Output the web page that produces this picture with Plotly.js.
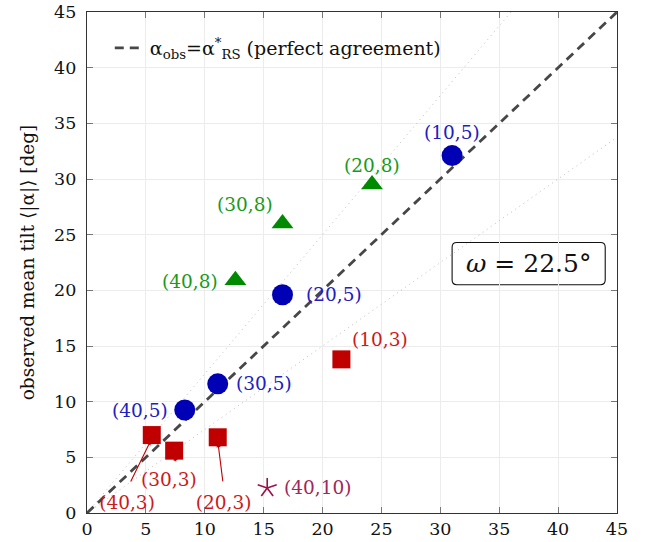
<!DOCTYPE html>
<html><head><meta charset="utf-8">
<script src="https://cdn.plot.ly/plotly-3.0.1.min.js"></script>
<style>body{margin:0;background:#fff}#g{width:645px;height:542px}</style>
</head><body><div id="g"></div>
<script>
// ---- data ----
const circX = [31.0, 16.6, 11.1, 8.3];
const circY = [32.1, 19.6, 11.6, 9.25];
const circLab = ['(10,5)', '(20,5)', '(30,5)', '(40,5)'];
const circLabX = [31.0, 21.0, 15.0, 4.5];
const circLabY = [34.2, 19.6, 11.6, 9.25];

const triX = [24.2, 16.6, 12.6];
const triY = [29.5, 26.0, 20.9];
const triLab = ['(20,8)', '(30,8)', '(40,8)'];
const triLabX = [24.2, 13.4, 8.75];
const triLabY = [31.2, 27.7, 20.8];

const sqX = [21.6, 11.1, 7.4, 5.5];
const sqY = [13.8, 6.8, 5.6, 7.0];
const sqLab = ['(10,3)', '(20,3)', '(30,3)', '(40,3)'];
const sqLabX = [24.9, 11.6, 7.0, 3.4];
const sqLabY = [15.6, 0.75, 3.0, 0.75];
// arrow tails (label side) for the crowded labels
const sqArrTailX = [null, 11.55, 7.6, 3.65];
const sqArrTailY = [null, 2.7, 4.5, 2.7];

const starX = [15.3];
const starY = [2.25];
const starLab = ['(40,10)'];
const starLabX = [19.6];
const starLabY = [2.25];

const refX = [0, 45];
const refY = [0, 45];
const upperSlope = 1.25, lowerSlope = 0.75;
const omegaText = '<i>ω</i> = 22.5°';

// ---- styles ----
const FONT = 'DejaVu Serif';
const BLUE = '#0000b4', GREEN = '#008a00', RED = '#c00000', PURP = '#9b1048';
const BLUE_T = '#2020c0', GREEN_T = '#1a9a1a', RED_T = '#cc1a1a', PURP_T = '#a0285a';

// five-armed star glyph around the data point (pixel-sized arms converted via axis scale)
const pxPerX = 530 / 45, pxPerY = 501 / 45, arm = 10;
const starLX = [], starLY = [];
for (let i = 0; i < starX.length; i++) {
  for (let k = 0; k < 5; k++) {
    const a = Math.PI / 2 + k * 2 * Math.PI / 5;
    starLX.push(starX[i], starX[i] + arm * Math.cos(a) / pxPerX, null);
    starLY.push(starY[i], starY[i] + arm * Math.sin(a) / pxPerY, null);
  }
}

const traces = [
  {x: refX, y: refX.map(v => v * upperSlope), mode: 'lines', showlegend: false, hoverinfo: 'skip',
   line: {color: '#bdbdbd', width: 1, dash: '1px,4px'}},
  {x: refX, y: refX.map(v => v * lowerSlope), mode: 'lines', showlegend: false, hoverinfo: 'skip',
   line: {color: '#bdbdbd', width: 1, dash: '1px,4px'}},
  {x: refX, y: refY, mode: 'lines', name: 'α<sub>obs</sub>=α<sup>*</sup><sub>RS</sub> (perfect agreement)',
   line: {color: '#474747', width: 2.8, dash: '9px,6px'}},
  {x: circX, y: circY, mode: 'markers', showlegend: false,
   marker: {symbol: 'circle', size: 21, color: BLUE}},
  {x: triX, y: triY, mode: 'markers', showlegend: false,
   marker: {symbol: 'triangle-up', size: 19, color: GREEN}},
  {x: sqX, y: sqY, mode: 'markers', showlegend: false,
   marker: {symbol: 'square', size: 18, color: RED}},
  {x: starLX, y: starLY, mode: 'lines', showlegend: false, connectgaps: false,
   line: {color: PURP, width: 1.6}},
  // clipped labels near the bottom axis
  {x: [sqLabX[1], sqLabX[3]], y: [sqLabY[1], sqLabY[3]], mode: 'text', text: [sqLab[1], sqLab[3]],
   showlegend: false, cliponaxis: true, textposition: 'middle center',
   textfont: {family: FONT, size: 18.5, color: RED_T}}
];

const ann = [];
function addLabels(xs, ys, labs, col, skip) {
  for (let i = 0; i < labs.length; i++) {
    if (skip && skip.includes(i)) continue;
    ann.push({x: xs[i], y: ys[i], xref: 'x', yref: 'y', text: labs[i], showarrow: false,
              font: {family: FONT, size: 18.5, color: col}});
  }
}
addLabels(circLabX, circLabY, circLab, BLUE_T);
addLabels(triLabX, triLabY, triLab, GREEN_T);
addLabels(sqLabX, sqLabY, sqLab, RED_T, [1, 3]);
addLabels(starLabX, starLabY, starLab, PURP_T);
for (let i = 0; i < sqX.length; i++) {
  if (sqArrTailX[i] === null) continue;
  ann.push({x: sqX[i] - (sqX[i] - sqArrTailX[i]) * 0.05, y: sqY[i] - 0.5, xref: 'x', yref: 'y',
            ax: sqArrTailX[i], ay: sqArrTailY[i], axref: 'x', ayref: 'y', text: '',
            showarrow: true, arrowhead: 2, arrowsize: 0.8, arrowwidth: 1.1, arrowcolor: RED});
}
ann.push({x: 37.5, y: 22.4, xref: 'x', yref: 'y', text: omegaText, showarrow: false,
          font: {family: FONT, size: 25, color: '#111'}});

// rounded box for omega
const bx0 = 31.0, bx1 = 44.0, by0 = 20.5, by1 = 24.3, rx = 0.4, ry = 0.42;
const boxPath = `M ${bx0 + rx},${by0} L ${bx1 - rx},${by0} Q ${bx1},${by0} ${bx1},${by0 + ry} ` +
  `L ${bx1},${by1 - ry} Q ${bx1},${by1} ${bx1 - rx},${by1} L ${bx0 + rx},${by1} ` +
  `Q ${bx0},${by1} ${bx0},${by1 - ry} L ${bx0},${by0 + ry} Q ${bx0},${by0} ${bx0 + rx},${by0} Z`;

const axisCommon = {
  range: [0, 45], dtick: 5, tick0: 0, ticks: 'inside', ticklen: 6, tickcolor: '#777', tickwidth: 1,
  showgrid: true, gridcolor: '#ececec', gridwidth: 1, zeroline: false,
  showline: true, linecolor: '#333', linewidth: 1.2, mirror: 'allticks',
  tickfont: {family: FONT, size: 17.5, color: '#111'}
};

const layout = {
  width: 645, height: 542,
  margin: {l: 87, r: 28, t: 12, b: 29},
  paper_bgcolor: '#fff', plot_bgcolor: '#fff',
  xaxis: Object.assign({}, axisCommon),
  yaxis: Object.assign({}, axisCommon, {
    ticklabelstandoff: 6,
    title: {text: 'observed mean tilt ⟨|α|⟩ [deg]', font: {family: FONT, size: 18.5, color: '#111'}, standoff: 14}
  }),
  legend: {x: 0.043, y: 0.966, xanchor: 'left', yanchor: 'top', bgcolor: 'rgba(0,0,0,0)',
           font: {family: FONT, size: 19, color: '#111'}},
  annotations: ann,
  shapes: [{type: 'path', path: boxPath, xref: 'x', yref: 'y', line: {color: '#111', width: 1.1},
            fillcolor: '#fff', layer: 'below'}],
  showlegend: true
};

Plotly.newPlot('g', traces, layout, {displayModeBar: false, staticPlot: true});
</script></body></html>
